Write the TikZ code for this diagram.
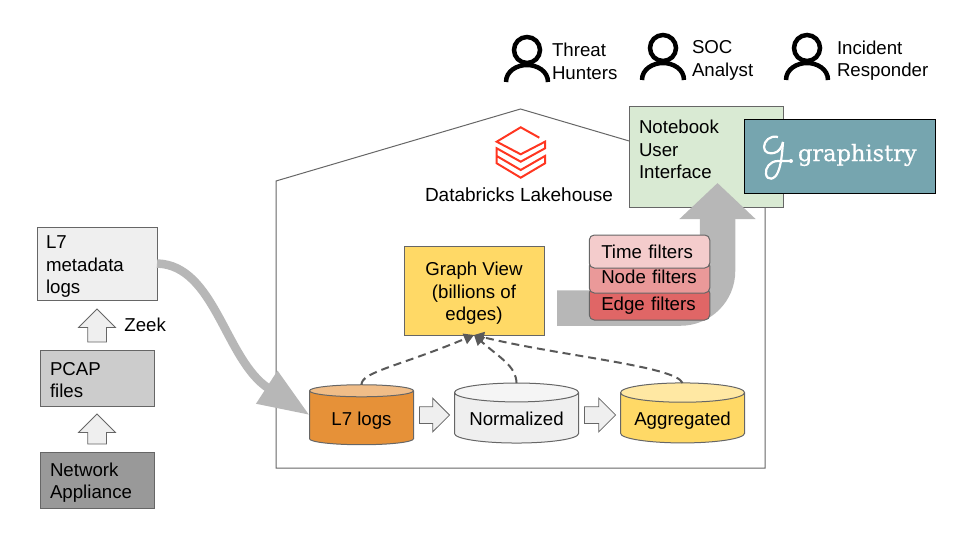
\documentclass[tikz,border=0pt]{standalone}
\usepackage{fontspec}
\setmainfont{Liberation Sans}
\newfontfamily\logofont[FakeBold=0.5]{DejaVu Serif}
\usepackage{tikz}
\usetikzlibrary{positioning,calc,arrows.meta,shapes.geometric,shapes.arrows}
\definecolor{lineg}{HTML}{666666}
\definecolor{arrowg}{HTML}{B7B7B7}
\definecolor{dashg}{HTML}{595959}
\definecolor{boxlight}{HTML}{EFEFEF}
\definecolor{boxmid}{HTML}{CCCCCC}
\definecolor{boxdark}{HTML}{999999}
\definecolor{nbgreen}{HTML}{D9EAD3}
\definecolor{gteal}{HTML}{76A5AF}
\definecolor{gyellow}{HTML}{FFD966}
\definecolor{logored}{HTML}{FF3621}
\definecolor{lorange}{HTML}{E69138}
\definecolor{ftime}{HTML}{F4CCCC}
\definecolor{fnode}{HTML}{EA9999}
\definecolor{fedge}{HTML}{E06666}

\begin{document}
\begin{tikzpicture}[x=1pt, y=-1pt,
  every node/.style={font=\fontsize{18.67}{22.6}\selectfont, outer sep=0pt},
  srcbox/.style={draw=lineg, line width=1pt, minimum width=#1, text width=#1-20pt, inner xsep=10pt, inner ysep=0pt, align=left},
  dbcyl/.style={cylinder, shape border rotate=90, draw=lineg, line width=1pt, aspect=0.2, minimum height=60pt, minimum width=#1, inner sep=0pt, text height=15pt, text depth=0pt, cylinder uses custom fill},
  upblock/.style={single arrow, shape border rotate=90, draw=lineg, fill=boxlight, line width=0.75pt, single arrow head extend=9pt, single arrow tip angle=90, inner sep=9pt},
  rtblock/.style={single arrow, draw=lineg, fill=boxlight, line width=0.75pt, single arrow head extend=8.5pt, single arrow tip angle=90, inner sep=8pt},
  filterbox/.style={draw=lineg, line width=1pt, rounded corners=5pt, minimum width=120.5pt, text width=96.5pt, text depth=0pt, inner xsep=12pt, inner ysep=0pt, align=left},
  bigarrow/.style={arrowg, line width=35.5pt, rounded corners=37pt, -{Triangle[length=36pt, width=74pt]}},
  dasharrow/.style={dashg, line width=2pt, dash pattern=on 8pt off 5pt, -{Triangle[length=10pt, width=11pt]}},
  persontext/.style={align=left, inner sep=0pt},
  person/.pic={
    \draw[black, line width=4.5pt] (0,0) circle (13);
    \draw[black, line width=4.5pt] (-21,32) .. controls (-21,21) and (-10,15) .. (0,15) .. controls (10,15) and (21,21) .. (21,32);
  },
]
\useasboundingbox (0,0) rectangle (960,540);
\draw[lineg, line width=1pt] (276,181) -- (520.5,109) -- (765,181) -- (765,468) -- (276,468) -- cycle;

\node[srcbox=120pt, fill=boxlight, minimum height=73pt, inner xsep=9pt, text width=102pt] (meta) at (97,263.5) {\rule{0pt}{19pt}L7\\metadata\\logs};
\node[upblock, below=9pt of meta, minimum height=33pt] (zeekup) {};
\node[srcbox=114pt, fill=boxmid, minimum height=56pt, below=8pt of zeekup] (pcap) {\rule{0pt}{17pt}PCAP\\files};
\node[upblock, below=8pt of pcap, minimum height=30pt] (pcapup) {};
\node[srcbox=114pt, fill=boxdark, minimum height=56pt, below=8pt of pcapup] (netapp) {\rule{0pt}{19pt}Network\\Appliance};
\node[right=18pt of zeekup, yshift=5pt, inner sep=0pt] (zeek) {Zeek};

\node[dbcyl=104pt, cylinder body fill=lorange, cylinder end fill=lorange!60!white] (logs) at (361.5,418) {L7 logs};
\node[rtblock, right=6pt of logs, yshift=3pt, minimum height=30pt] (lognorm) {};
\node[dbcyl=124pt, cylinder body fill=boxlight, cylinder end fill=boxlight!60!white, right=5pt of lognorm, yshift=-3pt] (norm) {Normalized};
\node[rtblock, right=6pt of norm, yshift=3pt, minimum height=31pt] (normagg) {};
\node[dbcyl=124pt, cylinder body fill=gyellow, cylinder end fill=gyellow!60!white, right=5pt of normagg, yshift=-3pt] (agg) {Aggregated};

\node[draw=lineg, line width=1pt, fill=gyellow, minimum width=140pt, minimum height=89pt, align=center, inner sep=0pt] (graph) at (474,290.5) {\rule{0pt}{19pt}Graph View\\(billions of\\edges)};

\draw[dasharrow] (logs.north) .. controls (361,372) and (400,366) .. (graph.south);
\draw[dasharrow] (norm.north) .. controls (516,366) and (500,358) .. (graph.south);
\draw[dasharrow] (agg.north) .. controls (675,366) and (560,356) .. (graph.south);

\draw[arrowg, line width=8.5pt, -{Triangle[length=51pt, width=37pt]}] (meta.east) .. controls (215,265) and (225,360) .. ([yshift=3pt]logs.west);

\node[draw=lineg, line width=1pt, fill=nbgreen, minimum width=154pt, minimum height=100pt, text width=134pt, inner xsep=10pt, inner ysep=0pt, align=left] (notebook) at (706,157) {Notebook\\User\\Interface\\[-7.5pt]\mbox{}};

\coordinate (fstart) at (557,308);
\coordinate (ftip) at (717.5,183);
\draw[bigarrow] (fstart) -| (ftip);

\node[filterbox, fill=fedge, minimum height=32pt] (edgef) at (649.5,304) {Edge filters};
\node[filterbox, fill=fnode, minimum height=32pt, above=-5pt of edgef] (nodef) {Node filters};
\node[filterbox, fill=ftime, minimum height=33pt, above=-7pt of nodef] (timef) {Time filters};

\node[draw=black, line width=1pt, fill=gteal, minimum width=191.5pt, minimum height=73pt, anchor=north west] (gbox) at (744,120) {};
\node[white, font=\logofont\fontsize{22.5}{24}\selectfont, inner sep=0pt, anchor=west] (gname) at (798,155) {graphistry};
\draw[white, line width=2.2pt] (778,137) .. controls (770,135) and (764,141) .. (764,147) .. controls (764,153) and (770,154) .. (774,153) .. controls (779,152) and (782,147) .. (783,142);
\draw[white, line width=2.2pt] (791,161) -- (778,161) .. controls (770,161) and (765,168) .. (766,174) .. controls (767,181) and (775,180) .. (778,172) .. controls (781,165) and (782,155) .. (783,142);
\fill[white] (791,161) circle (2);

\pic at (527,50) {person};
\pic at (663,48) {person};
\pic at (807,48) {person};
\node[persontext, anchor=west] (threat) at (552,61.5) {Threat\\Hunters};
\node[persontext, anchor=west] (soc) at (692,60.5) {SOC\\Analyst};
\node[persontext, anchor=west] (incident) at (837,60.5) {Incident\\Responder};

\node[inner sep=0pt, font=\fontsize{19}{22}\selectfont] (dblake) at (519,195) {Databricks Lakehouse};
\draw[logored, line width=2pt] (539.3,137.7) -- (520.7,127.3) -- (496.7,141.7) -- (520.7,154.3) -- (545,141.7) -- (545,148.3) -- (520.7,161.7) -- (496.7,148.3) -- (496.7,163.3) -- (520.7,177.7) -- (545,163.3) -- (545,156) -- (520.7,170) -- (496.7,156);
\end{tikzpicture}
\end{document}
